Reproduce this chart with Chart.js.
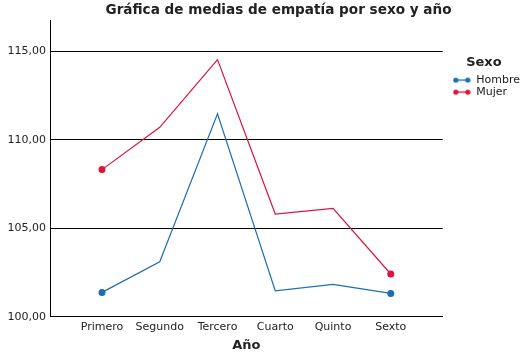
<!DOCTYPE html>
<html>
<head>
<meta charset="utf-8">
<script src="https://cdn.jsdelivr.net/npm/chart.js@4"></script>
<style>
  body { margin: 0; background: #fff; }
  #wrap { width: 525px; height: 352px; }
</style>
</head>
<body>
<div id="wrap"><canvas id="chart"></canvas></div>
<script>
// medias de empatía
const years = ['Primero', 'Segundo', 'Tercero', 'Cuarto', 'Quinto', 'Sexto'];
const hombre = [101.38, 103.11, 111.47, 101.47, 101.83, 101.32];
const mujer = [108.32, 110.71, 114.54, 105.81, 106.13, 102.42];
const seriesNames = ['Hombre', 'Mujer'];
const seriesColors = ['#1f6db3', '#dc143c'];

const font = 'DejaVu Sans';
const textColor = '#222';

// small legend icon: line with a dot on each end
function legendIcon(color) {
    const c = document.createElement('canvas');
    c.width = 18;
    c.height = 8;
    const g = c.getContext('2d');
    g.strokeStyle = color;
    g.fillStyle = color;
    g.lineWidth = 1.3;
    g.beginPath();
    g.moveTo(3, 4);
    g.lineTo(15, 4);
    g.stroke();
    [3, 15].forEach(x => {
        g.beginPath();
        g.arc(x, 4, 2.6, 0, Math.PI * 2);
        g.fill();
    });
    return c;
}

function toPoints(values) {
    return values.map((v, i) => ({ x: i, y: v }));
}

// only the first and last point get a marker
const endRadius = years.map((_, i) => (i === 0 || i === years.length - 1) ? 2.9 : 0);

// title and legend sit a bit right of where chart.js puts them
const nudge = {
    id: 'nudge',
    afterLayout(chart) {
        chart.titleBlock.left += 36;
        const lg = chart.legend;
        lg.left += 9;
        // legend title "Sexo" a little left of the column centre
        if (!lg._nudged) {
            ['drawTitle', '_drawTitle'].forEach(name => {
                const orig = lg[name];
                if (typeof orig !== 'function') return;
                lg[name] = function () {
                    this.left -= 7;
                    orig.apply(this, arguments);
                    this.left += 7;
                };
            });
            lg._nudged = true;
        }
    }
};

const ctx = document.getElementById('chart').getContext('2d');
new Chart(ctx, {
    type: 'line',
    data: {
        datasets: [hombre, mujer].map((vals, k) => ({
            label: seriesNames[k],
            data: toPoints(vals),
            borderColor: seriesColors[k],
            backgroundColor: seriesColors[k],
            borderWidth: 1.2,
            pointRadius: endRadius,
            pointStyle: 'circle',
            tension: 0
        }))
    },
    plugins: [nudge],
    options: {
        responsive: true,
        maintainAspectRatio: false,
        animation: false,
        layout: { padding: { left: 0, right: 4, top: 0, bottom: 0 } },
        plugins: {
            title: {
                display: true,
                text: 'Gráfica de medias de empatía por sexo y año',
                color: textColor,
                font: { family: font, size: 13.6, weight: 'bold' },
                padding: { top: 2, bottom: 2 }
            },
            legend: {
                position: 'right',
                align: 'start',
                title: {
                    display: true,
                    text: 'Sexo',
                    color: textColor,
                    font: { family: font, size: 13, weight: 'bold' },
                    padding: { top: 56, bottom: 2 }
                },
                labels: {
                    usePointStyle: true,
                    pointStyleWidth: 18,
                    padding: 1,
                    color: textColor,
                    font: { family: font, size: 11, lineHeight: 1 },
                    generateLabels: chart => chart.data.datasets.map((ds, i) => ({
                        text: ds.label,
                        pointStyle: legendIcon(ds.borderColor),
                        fillStyle: ds.borderColor,
                        strokeStyle: ds.borderColor,
                        lineWidth: 0,
                        fontColor: textColor,
                        datasetIndex: i
                    }))
                }
            },
            tooltip: { enabled: false }
        },
        scales: {
            x: {
                type: 'linear',
                min: -0.9,
                max: 5.9,
                grid: { display: false, drawTicks: false },
                border: { display: true, color: '#000', width: 1 },
                ticks: {
                    stepSize: 1,
                    includeBounds: false,
                    padding: 4,
                    color: textColor,
                    font: { family: font, size: 11 },
                    callback: v => years[v] ?? ''
                },
                title: {
                    display: true,
                    text: 'Año',
                    color: textColor,
                    font: { family: font, size: 13, weight: 'bold', lineHeight: 1 },
                    padding: { top: 1, bottom: 0 }
                }
            },
            y: {
                min: 100,
                max: 116.76,
                grid: { color: '#000', lineWidth: 1, drawTicks: false },
                border: { display: true, color: '#000', width: 1 },
                ticks: {
                    stepSize: 5,
                    includeBounds: false,
                    padding: 4,
                    color: textColor,
                    font: { family: font, size: 11 },
                    callback: v => v.toFixed(2).replace('.', ',')
                },
                afterFit: s => { s.width = 50; }
            }
        }
    }
});
</script>
</body>
</html>
